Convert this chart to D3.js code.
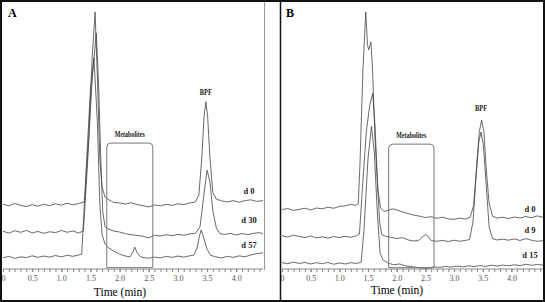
<!DOCTYPE html>
<html>
<head>
<meta charset="utf-8">
<script src="https://cdn.jsdelivr.net/npm/d3@7"></script>
<style>
  body { margin: 0; background: #fff; }
  svg { display: block; }
  .tick text { font-family: "Liberation Serif", serif; }
</style>
</head>
<body>
<div id="chart"></div>
<script>
// chromatogram traces, [time (min), signal (a.u.)]
const traceA_d0 = [[0,24.6],[0.1,23.9],[0.2,24.8],[0.3,24.1],[0.4,23.6],[0.5,24.4],[0.6,23.8],[0.7,24.5],[0.8,24.0],[0.9,24.7],[1.0,24.2],[1.1,24.9],[1.2,24.3],[1.3,24.8],[1.4,25.5],[1.47,50],[1.53,80],[1.58,97.3],[1.62,72],[1.66,42],[1.7,31],[1.75,27.3],[1.8,26.4],[1.9,25.2],[2.0,25.0],[2.1,24.6],[2.2,25.1],[2.3,24.4],[2.4,24.0],[2.5,23.5],[2.6,24.3],[2.7,23.9],[2.8,24.5],[2.9,24.1],[3.0,24.7],[3.1,24.4],[3.2,25.0],[3.3,25.4],[3.36,28],[3.41,42],[3.45,58],[3.48,63.3],[3.51,58],[3.55,42],[3.6,29],[3.66,26.5],[3.75,25.8],[3.85,25.4],[3.95,25.9],[4.05,25.3],[4.15,25.9],[4.25,26.2],[4.35,25.6],[4.46,25.9]];
const traceA_d30 = [[0,14.3],[0.1,13.6],[0.2,14.5],[0.3,13.9],[0.4,14.6],[0.5,13.7],[0.6,14.2],[0.7,13.5],[0.8,14.1],[0.9,13.8],[1.0,14.6],[1.1,13.9],[1.2,14.4],[1.3,13.6],[1.38,14.5],[1.45,40],[1.53,72],[1.6,89.4],[1.64,70],[1.68,40],[1.71,22],[1.75,16],[1.8,15.2],[1.9,14.4],[2.0,14.0],[2.1,13.4],[2.2,13.0],[2.3,12.7],[2.4,12.4],[2.5,11.8],[2.6,12.8],[2.7,12.5],[2.8,13.0],[2.9,12.6],[3.0,13.1],[3.1,12.8],[3.2,13.3],[3.3,13.5],[3.38,16],[3.44,27],[3.5,37.5],[3.55,33],[3.6,22],[3.66,15.5],[3.72,13.4],[3.8,13.1],[3.9,13.5],[4.0,12.9],[4.1,13.4],[4.2,13.0],[4.3,13.5],[4.4,13.8],[4.46,13.4]];
const traceA_d57 = [[0,4.2],[0.1,4.8],[0.2,4.0],[0.3,4.6],[0.4,4.3],[0.5,5.0],[0.6,4.4],[0.7,4.9],[0.8,4.5],[0.9,5.1],[1.0,4.6],[1.1,5.2],[1.2,4.8],[1.3,5.3],[1.35,5.6],[1.42,35],[1.5,68],[1.56,80],[1.62,55],[1.66,25],[1.7,13],[1.75,9.5],[1.8,8.2],[1.9,6.8],[2.0,5.6],[2.1,4.9],[2.18,4.6],[2.23,6.5],[2.26,8.3],[2.3,6.2],[2.35,4.8],[2.4,4.3],[2.5,4.1],[2.6,4.5],[2.7,4.2],[2.8,4.8],[2.9,4.4],[3.0,4.9],[3.1,4.5],[3.2,5.0],[3.27,5.2],[3.33,8],[3.37,12.5],[3.4,14.8],[3.44,12],[3.5,7.5],[3.56,5.2],[3.65,4.6],[3.75,4.2],[3.85,4.8],[3.95,4.4],[4.05,5.0],[4.15,4.6],[4.25,5.3],[4.35,5.8],[4.46,6.1]];

const traceB_d0 = [[0,22.5],[0.1,22.9],[0.2,22.2],[0.3,22.6],[0.4,23.0],[0.5,22.4],[0.6,23.1],[0.7,22.8],[0.8,23.4],[0.9,23.0],[1.0,23.7],[1.1,23.9],[1.2,24.5],[1.28,24.1],[1.33,24.8],[1.36,40],[1.41,75],[1.46,97.3],[1.49,85],[1.51,83],[1.55,86],[1.58,75],[1.62,50],[1.67,30],[1.72,23],[1.78,21.8],[1.85,22.2],[1.92,22.8],[2.0,22.4],[2.1,21.6],[2.2,21.0],[2.3,20.4],[2.4,20.0],[2.5,19.5],[2.6,19.8],[2.7,19.2],[2.8,19.6],[2.9,19.0],[3.0,18.8],[3.1,19.3],[3.2,18.9],[3.28,19.6],[3.34,24],[3.39,38],[3.44,52],[3.48,56.4],[3.52,52],[3.56,38],[3.61,25],[3.67,20],[3.75,19.3],[3.85,19.6],[3.95,19.1],[4.05,19.7],[4.15,19.3],[4.25,19.9],[4.35,19.4],[4.45,20.1],[4.55,19.6]];
const traceB_d9 = [[0,12.6],[0.1,12.1],[0.2,12.8],[0.3,12.3],[0.4,11.9],[0.5,12.5],[0.6,11.8],[0.7,12.2],[0.8,11.7],[0.9,12.3],[1.0,11.9],[1.1,12.4],[1.2,12.0],[1.3,12.6],[1.35,13.2],[1.4,30],[1.47,52],[1.53,62],[1.58,66.5],[1.62,55],[1.66,35],[1.7,18],[1.74,13],[1.8,12.4],[1.9,12.0],[2.0,11.5],[2.1,11.9],[2.2,11.0],[2.3,10.6],[2.38,10.8],[2.44,12],[2.5,13],[2.55,12.3],[2.6,10.8],[2.7,10.5],[2.8,10.8],[2.9,10.4],[3.0,10.9],[3.1,10.5],[3.2,10.8],[3.27,11.2],[3.33,18],[3.38,34],[3.43,48],[3.47,51.9],[3.51,47],[3.56,32],[3.61,16],[3.67,11.5],[3.75,11.0],[3.85,11.3],[3.95,10.9],[4.05,11.4],[4.15,10.8],[4.25,11.5],[4.35,10.9],[4.45,10.5],[4.55,10.7]];
const traceB_d15 = [[0,2.4],[0.1,2.0],[0.2,2.6],[0.3,2.1],[0.4,2.5],[0.5,1.9],[0.6,2.4],[0.7,2.0],[0.8,2.5],[0.9,1.8],[1.0,2.3],[1.1,1.9],[1.2,2.4],[1.3,2.1],[1.38,2.6],[1.43,15],[1.5,42],[1.56,54],[1.61,44],[1.66,22],[1.71,6],[1.76,3.5],[1.85,2.2],[1.95,1.6],[2.05,1.9],[2.15,1.2],[2.25,0.9],[2.35,0.6],[2.45,0.4],[2.55,0.3],[2.65,0.8],[2.75,0.6],[2.85,1.0],[2.95,0.7],[3.05,1.1],[3.15,0.8],[3.25,1.2],[3.35,0.9],[3.45,1.3],[3.55,1.0],[3.65,1.4],[3.75,1.1],[3.85,1.5],[3.95,1.2],[4.05,1.6],[4.15,1.3],[4.25,1.8],[4.35,1.4],[4.45,1.7],[4.55,1.5]];

// labels at the right end of each trace: [text, signal level]
const labelsA = [['d 0', 28.5], ['d 30', 17.5], ['d 57', 8]];
const labelsB = [['d 0', 21.5], ['d 9', 13.5], ['d 15', 4]];
const tickValues = [0, 0.5, 1.0, 1.5, 2.0, 2.5, 3.0, 3.5, 4.0];
// metabolite window [start, end] in min, and box top in signal units
const metabA = [1.78, 2.57, 47.7];
const metabB = [1.86, 2.65, 47.3];
const bpfA = [3.48, 66];
const bpfB = [3.47, 59.7];

const W = 545, H = 302;
const svg = d3.select('#chart').append('svg').attr('width', W).attr('height', H);

function drawPanel(cfg) {
    const g = svg.append('g');
    const x = d3.scaleLinear().domain([0, cfg.xmax]).range([cfg.x0, cfg.x1]);
    const y = d3.scaleLinear().domain([0, 100]).range([269, 5]);

    // minor ticks
    g.append('g').attr('transform', 'translate(0,269)')
        .call(d3.axisBottom(x).tickValues(d3.range(0, cfg.xmax, 0.1)).tickSize(3).tickFormat(''))
        .call(a => a.select('.domain').remove())
        .call(a => a.selectAll('line').attr('stroke', '#888'));
    const ax = g.append('g').attr('transform', 'translate(0,269)')
        .call(d3.axisBottom(x).tickValues(tickValues).tickSize(3).tickPadding(3)
            .tickFormat(d => d === 0 ? '0' : d3.format('.1f')(d)))
        .call(a => a.select('.domain').attr('stroke', '#888').attr('d', `M${cfg.x0},0H${cfg.x1}`));
    ax.selectAll('line').attr('stroke', '#888');
    ax.selectAll('text').attr('fill', '#555').style('font-size', '8px');

    g.append('text').attr('x', cfg.titleX).attr('y', cfg.titleY).attr('text-anchor', 'middle')
        .style('font-family', '"Liberation Serif", serif').style('font-size', '11.5px').text('Time (min)');

    const line = d3.line().x(d => x(d[0])).y(d => y(d[1]));
    cfg.traces.forEach(t => {
        g.append('path').datum(t).attr('d', line)
            .attr('fill', 'none').attr('stroke', '#444').attr('stroke-width', 0.8);
    });

    // metabolites box
    const bx1 = x(cfg.metab[0]), bx2 = x(cfg.metab[1]), by = y(cfg.metab[2]), yb = y(0.5), r = 4;
    g.append('path')
        .attr('d', `M${bx1},${yb}V${by + r}Q${bx1},${by} ${bx1 + r},${by}H${bx2 - r}Q${bx2},${by} ${bx2},${by + r}V${yb}Z`)
        .attr('fill', 'none').attr('stroke', '#777').attr('stroke-width', 1);
    g.append('text').attr('x', (bx1 + bx2) / 2).attr('y', by - 6).attr('text-anchor', 'middle')
        .attr('textLength', 30).attr('lengthAdjust', 'spacingAndGlyphs')
        .style('font-family', '"Liberation Serif", serif').style('font-size', '9px').style('font-weight', 'bold')
        .attr('fill', '#222').text('Metabolites');

    g.append('text').attr('x', x(cfg.bpf[0])).attr('y', y(cfg.bpf[1])).attr('text-anchor', 'middle')
        .attr('textLength', 12).attr('lengthAdjust', 'spacingAndGlyphs')
        .style('font-family', '"Liberation Serif", serif').style('font-size', '9px').style('font-weight', 'bold')
        .attr('fill', '#222').text('BPF');

    cfg.labels.forEach(l => {
        g.append('text').attr('x', cfg.labelX).attr('y', y(l[1])).attr('text-anchor', 'middle')
            .style('font-family', '"Liberation Serif", serif').style('font-size', '8.5px').style('font-weight', 'bold')
            .attr('fill', '#222').text(l[0]);
    });

    g.append('text').attr('x', cfg.letterX).attr('y', 17)
        .style('font-family', '"Liberation Serif", serif').style('font-size', '12px').style('font-weight', 'bold')
        .text(cfg.letter);
}

drawPanel({ x0: 3, x1: 263, xmax: 4.46, traces: [traceA_d0, traceA_d30, traceA_d57], labels: labelsA,
    labelX: 249, metab: metabA, bpf: bpfA, letter: 'A', letterX: 8, titleX: 120, titleY: 296 });
drawPanel({ x0: 282, x1: 543, xmax: 4.55, traces: [traceB_d0, traceB_d9, traceB_d15], labels: labelsB,
    labelX: 530, metab: metabB, bpf: bpfB, letter: 'B', letterX: 286, titleX: 397, titleY: 294 });

// frames
svg.append('line').attr('x1', 264.5).attr('x2', 264.5).attr('y1', 2).attr('y2', 270).attr('stroke', '#999').attr('stroke-width', 1);
svg.append('line').attr('x1', 280.5).attr('x2', 280.5).attr('y1', 1).attr('y2', 301).attr('stroke', '#111').attr('stroke-width', 1.5);
svg.append('rect').attr('x', 1).attr('y', 1).attr('width', W - 2).attr('height', H - 2)
    .attr('fill', 'none').attr('stroke', '#111').attr('stroke-width', 2);
</script>
</body>
</html>
